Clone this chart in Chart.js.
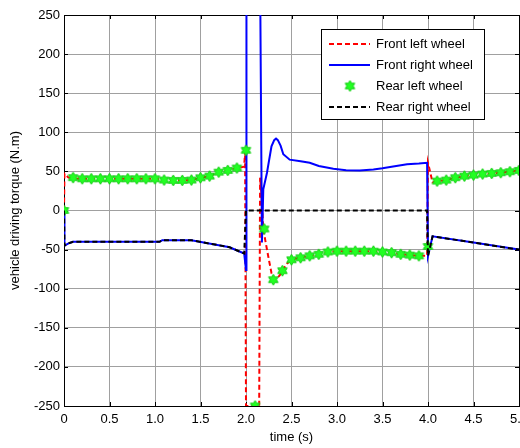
<!DOCTYPE html>
<html>
<head>
<meta charset="UTF-8">
<title>Vehicle driving torque</title>
<script src="https://cdn.jsdelivr.net/npm/chart.js"></script>
<style>
  html, body { margin: 0; padding: 0; background: #fff; overflow: hidden; }
  canvas { display: block; }
</style>
</head>
<body>
<canvas id="torqueChart" width="540" height="448"></canvas>
<script>
// values: time (s) and torque (N.m)
const frontLeftTime   = [0, 0.005, 0.05, 0.1, 0.2, 1.0, 1.1, 1.3, 1.4, 1.5, 1.6, 1.7, 1.8, 1.9, 1.98, 1.99, 2.0, 2.145, 2.155, 2.17, 2.19, 2.21, 2.245, 2.28, 2.31, 2.33, 2.37, 2.4, 2.45, 2.5, 2.6, 2.7, 2.8, 2.9, 3.0, 3.4, 3.5, 3.6, 3.7, 3.8, 3.9, 3.99, 4.0, 4.05, 4.1, 4.2, 4.3, 4.4, 4.5, 4.6, 4.7, 4.8, 4.9, 5.0];
const frontLeftTorque = [0, 47, 42, 41, 40.5, 40.5, 39, 38.5, 39, 41.8, 44, 49, 51.3, 54.3, 56, 76, -250, -250, 42, 20, -24, -37, -59, -80, -88, -88, -83, -77, -68, -63, -60, -58, -56, -53, -52, -52, -53, -54, -56, -57, -58, -58, 61, 36, 37.6, 38.9, 41.9, 44, 45.3, 46.6, 47.4, 48.3, 49.6, 51.3];

const frontRightTime   = [0, 0.005, 0.05, 0.1, 1.05, 1.08, 1.4, 1.82, 1.98, 2.0, 2.005, 2.155, 2.175, 2.19, 2.23, 2.28, 2.31, 2.33, 2.35, 2.38, 2.41, 2.48, 2.6, 2.7, 2.8, 2.96, 3.1, 3.25, 3.4, 3.5, 3.6, 3.77, 3.9, 3.99, 4.0, 4.05, 4.5, 5.0];
const frontRightTorque = [0, -45, -42, -40, -40, -38, -38, -47, -55, -76, 300, 300, -41, 27, 48, 82, 90, 92, 90, 83, 72, 65, 63, 61, 57, 53.4, 51.5, 51, 52.5, 54, 56, 59, 60, 61, -58, -33, -41, -50];

const rearLeftTime   = [0, 0.1, 0.2, 0.3, 0.4, 0.5, 0.6, 0.7, 0.8, 0.9, 1.0, 1.1, 1.2, 1.3, 1.4, 1.5, 1.6, 1.7, 1.8, 1.9, 2.0, 2.1, 2.2, 2.3, 2.4, 2.5, 2.6, 2.7, 2.8, 2.9, 3.0, 3.1, 3.2, 3.3, 3.4, 3.5, 3.6, 3.7, 3.8, 3.9, 4.0, 4.1, 4.2, 4.3, 4.4, 4.5, 4.6, 4.7, 4.8, 4.9, 5.0];
const rearLeftTorque = [0, 42, 40.6, 40.6, 40.6, 40.6, 40.6, 40.6, 40.6, 40.6, 40.6, 39, 38.5, 38.5, 39, 41.8, 44, 49, 51.3, 54.3, 77, -250, -23.6, -88.5, -77, -63, -60.5, -58, -56, -53, -52, -52, -52, -52, -52, -53, -54, -56, -57, -58, -46, 37.6, 38.9, 41.9, 44, 45.3, 46.6, 47.4, 48.3, 49.6, 51.3];

const rearRightTime   = [0, 0.005, 0.05, 0.1, 1.05, 1.08, 1.4, 1.82, 1.98, 2.0, 3.99, 4.0, 4.05, 4.5, 5.0];
const rearRightTorque = [0, -45, -42, -40, -40, -38, -38, -47, -55, 0, 0, -58, -33, -41, -50];

const xTicks = [0, 0.5, 1, 1.5, 2, 2.5, 3, 3.5, 4, 4.5, 5];
const yTicks = [-250, -200, -150, -100, -50, 0, 50, 100, 150, 200, 250];

const labels = ['Front left wheel', 'Front right wheel', 'Rear left wheel', 'Rear right wheel'];

const FONT = "Arial, 'Liberation Sans', sans-serif";

function toPoints(ts, vs) {
  return ts.map((t, i) => ({ x: t, y: vs[i] }));
}

// green hexagram marker
function hexagram(r) {
  const size = Math.ceil(2 * r + 4);
  const c = document.createElement('canvas');
  c.width = size; c.height = size;
  const g = c.getContext('2d');
  const cx = size / 2, cy = size / 2;
  const inner = r / Math.sqrt(3);
  g.beginPath();
  for (let i = 0; i < 12; i++) {
    const a = -Math.PI / 2 + i * Math.PI / 6;
    const rr = i % 2 === 0 ? r : inner;
    const px = cx + rr * Math.cos(a), py = cy + rr * Math.sin(a);
    if (i === 0) g.moveTo(px, py); else g.lineTo(px, py);
  }
  g.closePath();
  g.fillStyle = '#22ff22';
  g.fill();
  g.lineWidth = 1;
  g.strokeStyle = '#11cc11';
  g.stroke();
  return c;
}
const starMarker = hexagram(5.5);

const frame = {
  id: 'frame',
  beforeDatasetsDraw(chart) {
    const { ctx, chartArea: a, scales } = chart;
    ctx.save();
    ctx.strokeStyle = '#000';
    ctx.lineWidth = 1;
    ctx.beginPath();
    xTicks.forEach(v => {
      const x = Math.round(scales.x.getPixelForValue(v)) + 0.5;
      ctx.moveTo(x, a.bottom); ctx.lineTo(x, a.bottom - 4);
      ctx.moveTo(x, a.top); ctx.lineTo(x, a.top + 4);
    });
    yTicks.forEach(v => {
      const y = Math.round(scales.y.getPixelForValue(v)) + 0.5;
      ctx.moveTo(a.left, y); ctx.lineTo(a.left + 4, y);
      ctx.moveTo(a.right, y); ctx.lineTo(a.right - 4, y);
    });
    ctx.stroke();
    ctx.strokeRect(Math.round(a.left) + 0.5, Math.round(a.top) + 0.5,
                   Math.round(a.right - a.left), Math.round(a.bottom - a.top));
    ctx.restore();
  }
};

const boxLegend = {
  id: 'boxLegend',
  afterDraw(chart) {
    const ctx = chart.ctx;
    const bx = 321, by = 29, bw = 163, bh = 90;
    ctx.save();
    ctx.fillStyle = '#fff';
    ctx.fillRect(bx, by, bw, bh);
    ctx.strokeStyle = '#000';
    ctx.lineWidth = 1;
    ctx.strokeRect(bx + 0.5, by + 0.5, bw, bh);
    ctx.font = '13px ' + FONT;
    ctx.textBaseline = 'middle';
    const order = [0, 1, 2, 3];
    order.forEach((di, row) => {
      const ds = chart.data.datasets[di];
      const y = 44 + row * 21;
      if (ds.showLine === false) {
        ctx.drawImage(starMarker, 350 - starMarker.width / 2, y - starMarker.height / 2);
      } else {
        ctx.beginPath();
        ctx.setLineDash(ds.borderDash || []);
        ctx.strokeStyle = ds.borderColor;
        ctx.lineWidth = ds.borderWidth;
        ctx.moveTo(329, y); ctx.lineTo(370, y);
        ctx.stroke();
        ctx.setLineDash([]);
      }
      ctx.fillStyle = '#000';
      ctx.fillText(ds.label, 376, y);
    });
    ctx.restore();
  }
};

new Chart(document.getElementById('torqueChart'), {
  type: 'line',
  data: {
    datasets: [
      {
        label: labels[0],
        data: toPoints(frontLeftTime, frontLeftTorque),
        borderColor: '#ff0000',
        borderWidth: 2,
        borderDash: [5, 3],
        pointRadius: 0,
        order: 3
      },
      {
        label: labels[1],
        data: toPoints(frontRightTime, frontRightTorque),
        borderColor: '#0000ff',
        borderWidth: 2,
        pointRadius: 0,
        order: 2
      },
      {
        label: labels[2],
        data: toPoints(rearLeftTime, rearLeftTorque),
        showLine: false,
        pointStyle: starMarker,
        pointRadius: 5,
        order: 1
      },
      {
        label: labels[3],
        data: toPoints(rearRightTime, rearRightTorque),
        borderColor: '#000000',
        borderWidth: 2,
        borderDash: [5, 3],
        pointRadius: 0,
        order: 0
      }
    ]
  },
  options: {
    responsive: false,
    animation: false,
    layout: { padding: { top: 15, right: 21, bottom: 0, left: 0 } },
    plugins: {
      legend: { display: false },
      tooltip: { enabled: false }
    },
    scales: {
      x: {
        type: 'linear',
        min: 0,
        max: 5,
        afterBuildTicks: s => { s.ticks = xTicks.map(v => ({ value: v })); },
        afterFit: s => { s.height = 42; },
        grid: { color: '#a0a0a0', drawTicks: false },
        border: { display: false },
        ticks: { color: '#000', padding: 6, maxRotation: 0, autoSkip: false, font: { family: FONT, size: 13 } },
        title: { display: true, text: 'time (s)', color: '#000', padding: { top: 0, bottom: 3 }, font: { family: FONT, size: 13 } }
      },
      y: {
        min: -250,
        max: 250,
        afterBuildTicks: s => { s.ticks = yTicks.map(v => ({ value: v })); },
        afterFit: s => { s.width = 64; },
        grid: { color: '#a0a0a0', drawTicks: false },
        border: { display: false },
        ticks: { color: '#000', padding: 4, autoSkip: false, font: { family: FONT, size: 13 } },
        title: { display: true, text: 'vehicle driving torque (N.m)', color: '#000', padding: { top: 8, bottom: 0 }, font: { family: FONT, size: 13 } }
      }
    }
  },
  plugins: [frame, boxLegend]
});
</script>
</body>
</html>
